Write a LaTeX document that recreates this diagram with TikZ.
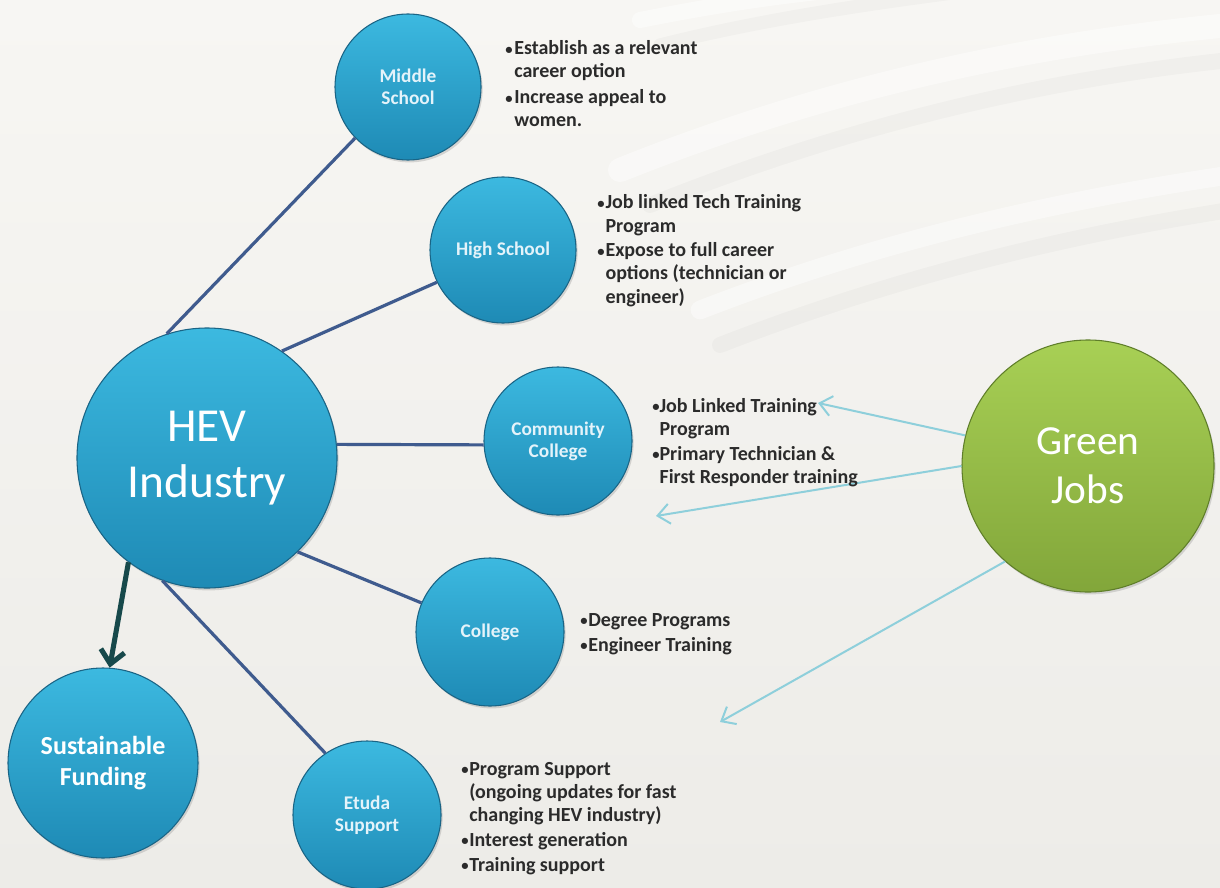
\documentclass[tikz,border=0pt]{standalone}
\usepackage{fontspec}
\setmainfont{Carlito}
\usetikzlibrary{shadows,arrows.meta}
\definecolor{bg}{HTML}{EDECE8}
\definecolor{bgtop}{HTML}{F7F6F3}
\definecolor{btop}{HTML}{3CB9E0}
\definecolor{bbot}{HTML}{1E8AB5}
\definecolor{bedge}{HTML}{1A6485}
\definecolor{gtop}{HTML}{A8D055}
\definecolor{gbot}{HTML}{82A63A}
\definecolor{gedge}{HTML}{5F7E2A}
\definecolor{edgeline}{HTML}{3F5B8E}
\definecolor{gline}{HTML}{8ECFDB}
\definecolor{farrow}{HTML}{17494B}
\definecolor{txt}{HTML}{2B2B2B}
\definecolor{lbl}{HTML}{E4F3FA}
\newcommand\mybul[1]{\makebox[#1][l]{\raisebox{0.6pt}{\fontsize{11}{11}\selectfont\textbullet}}}
\begin{document}
\begin{tikzpicture}[x=0.75pt,y=-0.75pt,
  circ/.style={circle, inner sep=0pt, align=center, line width=0.8pt,
    drop shadow={opacity=0.28, shadow xshift=1.2pt, shadow yshift=-1.8pt}},
  bluec/.style={circ, minimum size=#1, top color=btop, bottom color=bbot, draw=bedge},
  greenc/.style={circ, minimum size=#1, top color=gtop, bottom color=gbot, draw=gedge},
  smalllbl/.style={text=lbl, font=\bfseries\fontsize{14.5}{16.5}\selectfont},
  bigblue/.style={text=white, font=\fontsize{35.5}{42}\selectfont},
  biggreen/.style={text=white, font=\fontsize{31}{37}\selectfont},
  fundlbl/.style={text=white, font=\bfseries\fontsize{19.5}{23.5}\selectfont},
  link/.style={draw=edgeline, line width=2.4pt},
  glink/.style={draw=gline, line width=1.5pt, -{Straight Barb[length=9pt, width=15pt, line width=1.5pt]}},
  farr/.style={draw=farrow, line width=3.8pt, -{Straight Barb[length=10pt, width=18pt, line width=3.8pt]}},
  bullist/.style={anchor=base west, inner sep=0pt, text=txt, font=\bfseries\fontsize{15}{17.25}\selectfont},
  streak/.style={line cap=round, draw=black, opacity=0.022},
  shine/.style={line cap=round, draw=white, opacity=0.45}
]
\useasboundingbox (0,0) rectangle (1220,888);
\clip (0,0) rectangle (1220,888);
% background
\shade[top color=bgtop, bottom color=bg] (0,0) rectangle (1220,888);
\draw[shine, line width=18pt] (620,170) .. controls (820,90) and (1020,45) .. (1230,25);
\draw[streak, line width=12pt] (650,205) .. controls (850,125) and (1040,80) .. (1230,60);
\draw[shine, line width=14pt] (700,310) .. controls (880,240) and (1060,200) .. (1230,175);
\draw[streak, line width=12pt] (720,345) .. controls (900,275) and (1070,235) .. (1230,210);
\draw[streak, line width=10pt] (660,45) .. controls (760,20) and (860,5) .. (960,-8);
\draw[shine, line width=12pt] (640,20) .. controls (740,0) and (820,-10) .. (900,-15);

% circles
\node[bluec=195pt, bigblue] (hev) at (207,458) {HEV\\Industry};
\node[bluec=109.5pt, smalllbl] (ms) at (408,87) {Middle\\School};
\node[bluec=109.5pt, smalllbl] (hs) at (503,250) {High School};
\node[bluec=111pt, smalllbl] (cc) at (558,441) {Community\\College};
\node[bluec=111pt, smalllbl] (col) at (490,632) {College};
\node[bluec=111pt, smalllbl] (et) at (367,815) {Etuda\\Support};
\node[bluec=142.5pt, fundlbl] (fund) at (103,763) {Sustainable\\Funding};
\node[greenc=189pt, biggreen] (gj) at (1088,466) {Green\\Jobs};

% links from HEV
\draw[link] (hev.108) -- (ms.224);
\draw[link] (hev.55) -- (hs.206);
\draw[link] (hev.6.4) -- (cc.183);
\draw[link] (hev.-46) -- (col.157.5);
\draw[link] (hev.-110) -- (et.124);
\draw[farr] (hev.-127) -- (fund.86);

% green jobs arrows
\coordinate (t1) at (818,403);
\coordinate (t2) at (656,516);
\coordinate (t3) at (720,722);
\draw[glink] (gj.166) -- (t1);
\draw[glink] (gj.180.5) -- (t2);
\draw[glink] (gj.229) -- (t3);

% bullet lists
\node[bullist] (msl) at (505,55) {\begin{tabular}[t]{@{}l@{}l@{}}
\mybul{6.8pt} & Establish as a relevant\\
 & career option\\[2.25pt]
\mybul{6.8pt} & Increase appeal to\\
 & women.
\end{tabular}};
\node[bullist] (hsl) at (597,209) {\begin{tabular}[t]{@{}l@{}l@{}}
\mybul{6.2pt} & Job linked Tech Training\\
 & Program\\[1.5pt]
\mybul{6.2pt} & Expose to full career\\
 & options (technician or\\
 & engineer)
\end{tabular}};
\node[bullist] (ccl) at (652,412) {\begin{tabular}[t]{@{}l@{}l@{}}
\mybul{5.5pt} & Job Linked Training\\
 & Program\\[1.5pt]
\mybul{5.5pt} & Primary Technician \&\\
 & First Responder training
\end{tabular}};
\node[bullist] (coll) at (580,626) {\begin{tabular}[t]{@{}l@{}l@{}}
\mybul{6pt} & Degree Programs\\[1.5pt]
\mybul{6pt} & Engineer Training
\end{tabular}};
\node[bullist] (etl) at (461,775) {\begin{tabular}[t]{@{}l@{}l@{}}
\mybul{6pt} & Program Support\\
 & (ongoing updates for fast\\
 & changing HEV industry)\\[1.5pt]
\mybul{6pt} & Interest generation\\[1.5pt]
\mybul{6pt} & Training support
\end{tabular}};
\end{tikzpicture}
\end{document}
